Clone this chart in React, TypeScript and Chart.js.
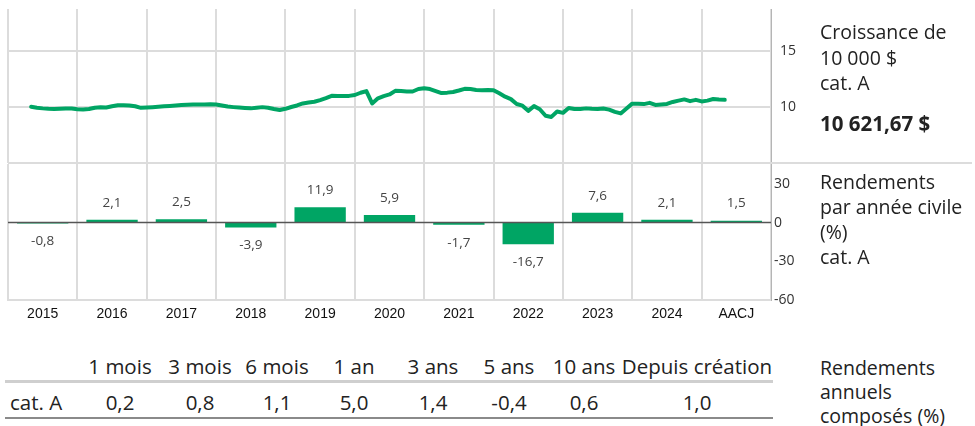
import React, { useEffect, useRef } from "react";
import { Chart, registerables } from "chart.js";

Chart.register(...registerables);

// ---------- DATA ----------
const growthStartYear = 2015;
const growthStartMonth = 4; // first monthly point (0 = Jan)
const growthValues = [
  10.0, 9.92, 9.86, 9.82, 9.8, 9.82, 9.85, 9.84,
  9.78, 9.77, 9.8, 9.92, 9.95, 9.94, 10.05, 10.14, 10.13, 10.12, 10.05, 9.91,
  9.93, 9.96, 10.0, 10.05, 10.08, 10.12, 10.15, 10.18, 10.2, 10.21, 10.2, 10.22,
  10.21, 10.12, 10.02, 9.97, 9.93, 9.89, 9.86, 9.92, 9.97, 9.92, 9.8, 9.71,
  9.82, 9.98, 10.12, 10.3, 10.38, 10.45, 10.6, 10.78, 10.98, 10.95, 10.96, 10.97,
  11.05, 11.25, 11.4, 10.3, 10.75, 10.95, 11.1, 11.42, 11.4, 11.36, 11.36, 11.58,
  11.65, 11.58, 11.4, 11.22, 11.26, 11.32, 11.45, 11.6, 11.58, 11.5, 11.48, 11.49,
  11.48, 11.2, 10.9, 10.68, 10.25, 10.1, 9.64, 10.06, 9.78, 9.2, 9.1, 9.58,
  9.46, 9.9, 9.8, 9.8, 9.86, 9.82, 9.8, 9.85, 9.75, 9.55, 9.41, 9.85,
  10.28, 10.27, 10.24, 10.35, 10.16, 10.2, 10.25, 10.43, 10.55, 10.66, 10.5, 10.62,
  10.48, 10.55, 10.69, 10.64, 10.62,
];
const growthTicks = [10, 15];

const yearLabels = ["2015", "2016", "2017", "2018", "2019", "2020", "2021", "2022", "2023", "2024", "AACJ"];
const annualReturns = [-0.8, 2.1, 2.5, -3.9, 11.9, 5.9, -1.7, -16.7, 7.6, 2.1, 1.5];
const annualTicks = [30, 0, -30, -60];

const periodLabels = ["1 mois", "3 mois", "6 mois", "1 an", "3 ans", "5 ans", "10 ans", "Depuis création"];
const periodReturns = [0.2, 0.8, 1.1, 5.0, 1.4, -0.4, 0.6, 1.0];

const growthTitle = ["Croissance de", "10 000 $", "cat. A"];
const growthFinal = "10 621,67 $";
const annualTitle = ["Rendements", "par année civile", "(%)", "cat. A"];
const compoundTitle = ["Rendements", "annuels", "composés (%)"];
const rowLabel = "cat. A";

// ---------- STYLE / LAYOUT ----------
const GREEN = "#00a564";
const GRID = "#dcdcdc";
const TEXT = "#222";
const FONT = "'Open Sans', sans-serif";
const CAP_SIZE = 19.5;
const TABLE_SIZE = 20.5;
const colCenters = [120, 200, 277, 354, 433, 509, 584, 697];

const fmt = (v: number) => v.toFixed(1).replace(".", ",");

export default function App() {
  const topRef = useRef<HTMLCanvasElement>(null);
  const barRef = useRef<HTMLCanvasElement>(null);

  useEffect(() => {
    const top = new Chart(topRef.current!, {
      type: "line",
      data: {
        datasets: [
          {
            data: growthValues.map((v, i) => ({
              x: growthStartYear + (growthStartMonth + i) / 12,
              y: v,
            })),
            borderColor: GREEN,
            borderWidth: 4,
            pointRadius: 0,
            tension: 0,
            borderJoinStyle: "round",
            borderCapStyle: "round",
          },
        ],
      },
      options: {
        animation: false,
        responsive: false,
        layout: { autoPadding: false, padding: { left: 8, top: 9, right: 0, bottom: 0 } },
        plugins: { legend: { display: false }, tooltip: { enabled: false } },
        scales: {
          x: {
            type: "linear",
            min: 2015,
            max: 2026,
            ticks: { display: false, stepSize: 1 },
            grid: { color: GRID, lineWidth: 2, drawTicks: false },
            border: { display: false },
            afterFit: (s: any) => {
              s.height = 2;
              s.paddingLeft = 0;
              s.paddingRight = 0;
            },
          },
          y: {
            position: "right",
            min: 5,
            max: 18.7,
            afterBuildTicks: (s: any) => {
              s.ticks = growthTicks.map((v) => ({ value: v }));
            },
            ticks: {
              padding: 9,
              color: "#333",
              font: { family: FONT, size: 14 },
            },
            grid: { color: GRID, lineWidth: 2, drawTicks: false },
            border: { display: true, color: "#b5b5b5", width: 1 },
            afterFit: (s: any) => {
              s.width = 204;
              s.paddingTop = 0;
              s.paddingBottom = 0;
            },
          },
        },
      },
    });

    const labelPlugin = {
      id: "barLabels",
      afterDatasetsDraw(chart: any) {
        const { ctx, chartArea, scales } = chart;
        const y0 = scales.y.getPixelForValue(0);
        ctx.save();
        ctx.strokeStyle = "#555";
        ctx.lineWidth = 1.5;
        ctx.beginPath();
        ctx.moveTo(chartArea.left, y0);
        ctx.lineTo(chartArea.right, y0);
        ctx.stroke();
        const meta = chart.getDatasetMeta(0);
        ctx.fillStyle = "#444";
        ctx.font = `13.5px ${FONT}`;
        ctx.textAlign = "center";
        ctx.textBaseline = "middle";
        meta.data.forEach((bar: any, i: number) => {
          const v = annualReturns[i];
          const y = v >= 0 ? Math.min(bar.y, y0) - 17 : Math.max(bar.y, y0) + 18;
          ctx.fillText(fmt(v), bar.x, y);
        });
        ctx.restore();
      },
    };

    const bars = new Chart(barRef.current!, {
      type: "bar",
      data: {
        labels: yearLabels,
        datasets: [
          {
            data: annualReturns,
            backgroundColor: GREEN,
            barPercentage: 0.74,
            categoryPercentage: 1,
          },
        ],
      },
      plugins: [labelPlugin],
      options: {
        animation: false,
        responsive: false,
        layout: { autoPadding: false, padding: { left: 8, top: 14, right: 0, bottom: 0 } },
        plugins: { legend: { display: false }, tooltip: { enabled: false } },
        scales: {
          x: {
            ticks: {
              padding: 6,
              color: "#111",
              font: { family: "'Liberation Sans', Arial, sans-serif", size: 14 },
            },
            grid: { color: GRID, lineWidth: 2, drawTicks: false, offset: true },
            border: { display: true, color: GRID, width: 2 },
            afterFit: (s: any) => {
              s.height = 25;
              s.paddingLeft = 0;
              s.paddingRight = 0;
            },
          },
          y: {
            position: "right",
            min: -60,
            max: 45.4,
            afterBuildTicks: (s: any) => {
              s.ticks = annualTicks.map((v) => ({ value: v }));
            },
            ticks: {
              padding: 3,
              color: "#333",
              font: { family: FONT, size: 14 },
            },
            grid: { display: false, drawTicks: false },
            border: { display: true, color: "#b5b5b5", width: 1 },
            afterFit: (s: any) => {
              s.width = 204;
              s.paddingTop = 0;
              s.paddingBottom = 0;
            },
          },
        },
      },
    });

    return () => {
      top.destroy();
      bars.destroy();
    };
  }, []);

  const textBase: React.CSSProperties = {
    position: "absolute",
    fontFamily: FONT,
    color: TEXT,
    whiteSpace: "nowrap",
  };

  return (
    <div
      style={{
        position: "absolute",
        left: 0,
        top: 0,
        width: 975,
        height: 426,
        background: "#fff",
        overflow: "hidden",
      }}
    >
      <canvas
        ref={topRef}
        width={975}
        height={165}
        style={{ position: "absolute", left: 0, top: 0, width: 975, height: 165 }}
      />
      <canvas
        ref={barRef}
        width={975}
        height={175}
        style={{ position: "absolute", left: 0, top: 150, width: 975, height: 175 }}
      />
      {/* separator between the two panels */}
      <div
        style={{ position: "absolute", left: 8, top: 162, width: 964, height: 2, background: GRID }}
      />

      {/* right-side captions */}
      <div style={{ ...textBase, left: 820, top: 19, fontSize: CAP_SIZE, lineHeight: "25.5px" }}>
        {growthTitle.map((t) => (
          <div key={t}>{t}</div>
        ))}
      </div>
      <div
        style={{ ...textBase, left: 820, top: 110, fontSize: TABLE_SIZE, lineHeight: "26px", fontWeight: 700 }}
      >
        {growthFinal}
      </div>
      <div style={{ ...textBase, left: 820, top: 169, fontSize: CAP_SIZE, lineHeight: "25px" }}>
        {annualTitle.map((t, i) => (
          <div key={i}>{t}</div>
        ))}
      </div>

      {/* compound returns table */}
      {periodLabels.map((t, i) => (
        <div
          key={t}
          style={{
            ...textBase,
            left: colCenters[i] - 100,
            width: 200,
            textAlign: "center",
            top: 353,
            fontSize: TABLE_SIZE,
            lineHeight: "26px",
          }}
        >
          {t}
        </div>
      ))}
      <div style={{ position: "absolute", left: 5, top: 380, width: 768, height: 3, background: "#cfcfcf" }} />
      <div style={{ ...textBase, left: 10, top: 389, fontSize: TABLE_SIZE, lineHeight: "26px" }}>{rowLabel}</div>
      {periodReturns.map((v, i) => (
        <div
          key={i}
          style={{
            ...textBase,
            left: colCenters[i] - 100,
            width: 200,
            textAlign: "center",
            top: 389,
            fontSize: TABLE_SIZE,
            lineHeight: "26px",
          }}
        >
          {fmt(v)}
        </div>
      ))}
      <div style={{ position: "absolute", left: 5, top: 417, width: 768, height: 1.5, background: "#8a8a8a" }} />
      <div style={{ ...textBase, left: 820, top: 356, fontSize: CAP_SIZE, lineHeight: "24px" }}>
        {compoundTitle.map((t) => (
          <div key={t}>{t}</div>
        ))}
      </div>
    </div>
  );
}
